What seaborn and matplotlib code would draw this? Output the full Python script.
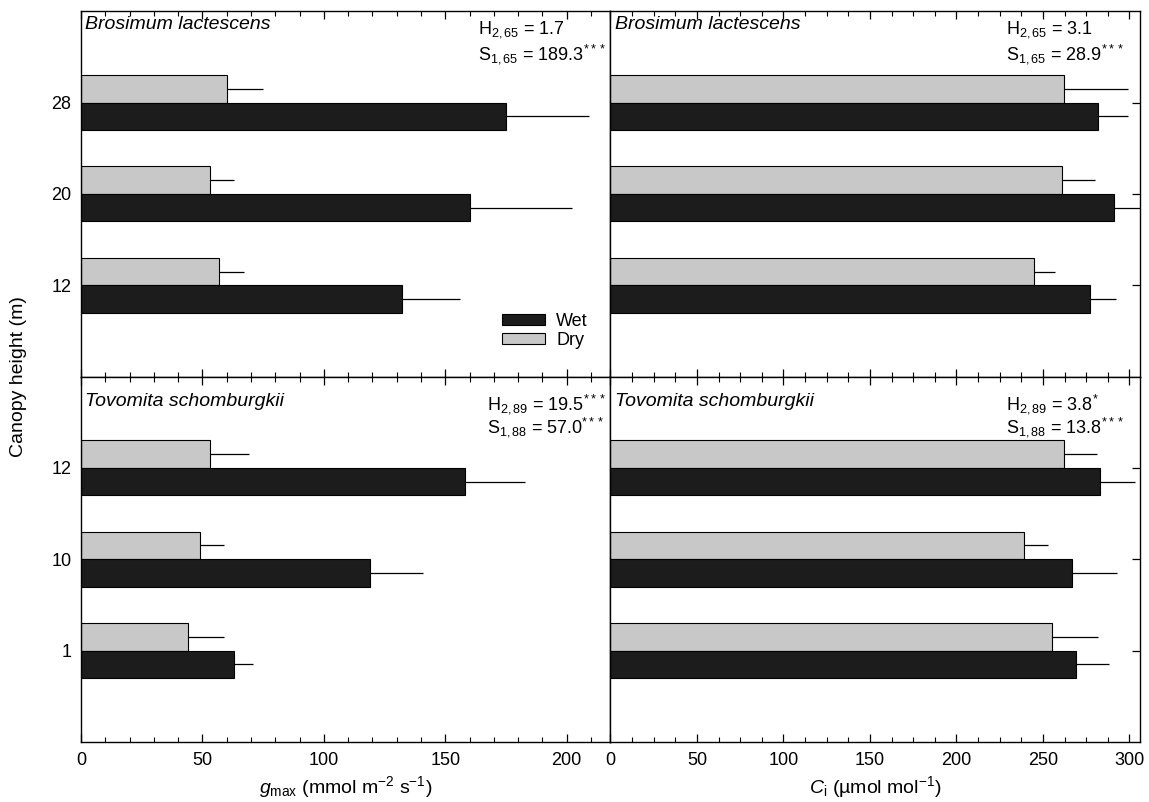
import pandas as pd
import matplotlib
matplotlib.use("Agg")
import matplotlib.pyplot as plt
from matplotlib.patches import Patch
from matplotlib.ticker import MultipleLocator
import seaborn as sns

# -----------------------------------
# Data
# -----------------------------------
heights_bros = ["28", "20", "12"]
heights_tovo = ["12", "10", "1"]

gmax_bros_wet = [175, 160, 132]
gmax_bros_wet_se = [34, 42, 24]
gmax_bros_dry = [60, 53, 57]
gmax_bros_dry_se = [15, 10, 10]

gmax_tovo_wet = [158, 119, 63]
gmax_tovo_wet_se = [25, 22, 8]
gmax_tovo_dry = [53, 49, 44]
gmax_tovo_dry_se = [16, 10, 15]

ci_bros_wet = [282, 291, 277]
ci_bros_wet_se = [17, 19, 15]
ci_bros_dry = [262, 261, 245]
ci_bros_dry_se = [37, 19, 12]

ci_tovo_wet = [283, 267, 269]
ci_tovo_wet_se = [20, 26, 19]
ci_tovo_dry = [262, 239, 255]
ci_tovo_dry_se = [19, 14, 27]

stats_text = {
    "gmax_bros": (r"H$_{\mathregular{2,65}}$ = 1.7",
                  r"S$_{\mathregular{1,65}}$ = 189.3$^{\mathregular{***}}$"),
    "ci_bros": (r"H$_{\mathregular{2,65}}$ = 3.1",
                r"S$_{\mathregular{1,65}}$ = 28.9$^{\mathregular{***}}$"),
    "gmax_tovo": (r"H$_{\mathregular{2,89}}$ = 19.5$^{\mathregular{***}}$",
                  r"S$_{\mathregular{1,88}}$ = 57.0$^{\mathregular{***}}$"),
    "ci_tovo": (r"H$_{\mathregular{2,89}}$ = 3.8$^{\mathregular{*}}$",
                r"S$_{\mathregular{1,88}}$ = 13.8$^{\mathregular{***}}$"),
}

WET_COLOR = "#1c1c1c"
DRY_COLOR = "#c8c8c8"
hue_order = ["Dry", "Wet"]

# -----------------------------------
# Style
# -----------------------------------
sns.set_theme(style="ticks")
plt.rcParams["font.family"] = ["Liberation Sans", "DejaVu Sans"]
plt.rcParams["mathtext.fontset"] = "custom"
plt.rcParams["mathtext.rm"] = "Liberation Sans"
plt.rcParams["mathtext.it"] = "Liberation Sans:italic"
plt.rcParams["axes.linewidth"] = 1.0
plt.rcParams["axes.edgecolor"] = "black"
plt.rcParams["text.color"] = "black"
plt.rcParams["axes.labelcolor"] = "black"
plt.rcParams["xtick.color"] = "black"
plt.rcParams["ytick.color"] = "black"


def make_df(heights, wet, wet_se, dry, dry_se):
    return pd.DataFrame({
        "height": heights + heights,
        "season": ["Wet"] * len(heights) + ["Dry"] * len(heights),
        "value": wet + dry,
        "se": wet_se + dry_se,
    })


def draw_panel(ax, df, heights, xmax, minor_step):
    sns.barplot(
        data=df, y="height", x="value", hue="season",
        order=heights, hue_order=hue_order,
        palette={"Wet": WET_COLOR, "Dry": DRY_COLOR},
        orient="h", width=0.6, edgecolor="black", linewidth=0.8,
        errorbar=None, legend=False, ax=ax,
    )
    # one-sided error bars (mean + SE)
    for container, season in zip(ax.containers, hue_order):
        sub = df[df["season"] == season].set_index("height").loc[heights]
        for rect, se in zip(container, sub["se"]):
            yc = rect.get_y() + rect.get_height() / 2
            xe = rect.get_width()
            ax.hlines(yc, xe, xe + se, color="black", lw=0.9)
    ax.set_ylim(3, -1)
    ax.set_xlim(0, xmax)
    ax.xaxis.set_major_locator(MultipleLocator(50))
    ax.xaxis.set_minor_locator(MultipleLocator(minor_step))
    ax.tick_params(axis="x", which="both", direction="in", top=True,
                   bottom=True, labelsize=13, pad=7)
    ax.tick_params(axis="x", which="major", length=6, width=0.9)
    ax.tick_params(axis="x", which="minor", length=3.5, width=0.8)
    ax.tick_params(axis="y", direction="in", length=6, width=0.9,
                   labelsize=13, pad=7)
    ax.set_ylabel("")
    ax.set_xlabel("")


fig, axes = plt.subplots(2, 2, figsize=(11.49, 8.02), dpi=100)
fig.subplots_adjust(left=0.0705, right=0.992, bottom=0.075, top=0.986,
                    wspace=0, hspace=0)

panels = [
    (axes[0, 0], make_df(heights_bros, gmax_bros_wet, gmax_bros_wet_se,
                         gmax_bros_dry, gmax_bros_dry_se), heights_bros, 218, 10, "gmax_bros"),
    (axes[0, 1], make_df(heights_bros, ci_bros_wet, ci_bros_wet_se,
                         ci_bros_dry, ci_bros_dry_se), heights_bros, 306, 12.5, "ci_bros"),
    (axes[1, 0], make_df(heights_tovo, gmax_tovo_wet, gmax_tovo_wet_se,
                         gmax_tovo_dry, gmax_tovo_dry_se), heights_tovo, 218, 10, "gmax_tovo"),
    (axes[1, 1], make_df(heights_tovo, ci_tovo_wet, ci_tovo_wet_se,
                         ci_tovo_dry, ci_tovo_dry_se), heights_tovo, 306, 12.5, "ci_tovo"),
]

for ax, df, heights, xmax, minor_step, key in panels:
    draw_panel(ax, df, heights, xmax, minor_step)

# right column: no y labels, ticks on the right spine
for ax in axes[:, 1]:
    ax.yaxis.tick_right()
    ax.tick_params(axis="y", labelright=False, direction="in")
for ax in axes[0, :]:
    ax.tick_params(axis="x", labelbottom=False)

# species names
for ax in axes[0, :]:
    ax.text(0.008, 0.965, "Brosimum lactescens", transform=ax.transAxes,
            fontsize=14, style="italic", va="center", ha="left")
for ax in axes[1, :]:
    ax.text(0.008, 0.932, "Tovomita schomburgkii", transform=ax.transAxes,
            fontsize=14, style="italic", va="center", ha="left")

# statistics
stat_pos = {
    "gmax_bros": (0.749, 0.950, 0.882),
    "ci_bros": (0.747, 0.950, 0.882),
    "gmax_tovo": (0.767, 0.925, 0.862),
    "ci_tovo": (0.747, 0.925, 0.862),
}
for ax, df, heights, xmax, minor_step, key in panels:
    x, y1, y2 = stat_pos[key]
    h_line, s_line = stats_text[key]
    ax.text(x, y1, h_line, transform=ax.transAxes, fontsize=13,
            va="center", ha="left")
    ax.text(x, y2, s_line, transform=ax.transAxes, fontsize=13,
            va="center", ha="left")

# legend
handles = [
    Patch(facecolor=WET_COLOR, edgecolor="black", linewidth=0.8, label="Wet"),
    Patch(facecolor=DRY_COLOR, edgecolor="black", linewidth=0.8, label="Dry"),
]
axes[0, 0].legend(handles=handles, loc="upper left",
                  bbox_to_anchor=(0.795, 0.175), frameon=False, fontsize=13,
                  handlelength=2.4, handleheight=0.55, handletextpad=0.6,
                  labelspacing=0.15, borderpad=0, borderaxespad=0)

# axis labels
axes[1, 0].set_xlabel(r"$g_{\mathregular{max}}$ (mmol m$^{\mathregular{-2}}$ s$^{\mathregular{-1}}$)",
                      fontsize=14, labelpad=4)
axes[1, 1].set_xlabel(r"$C_{\mathregular{i}}$ (µmol mol$^{\mathregular{-1}}$)",
                      fontsize=14, labelpad=4)
fig.text(0.016, 0.53, "Canopy height (m)", rotation=90, fontsize=14,
         va="center", ha="center")

plt.savefig("out.png", dpi=100)
plt.close()
